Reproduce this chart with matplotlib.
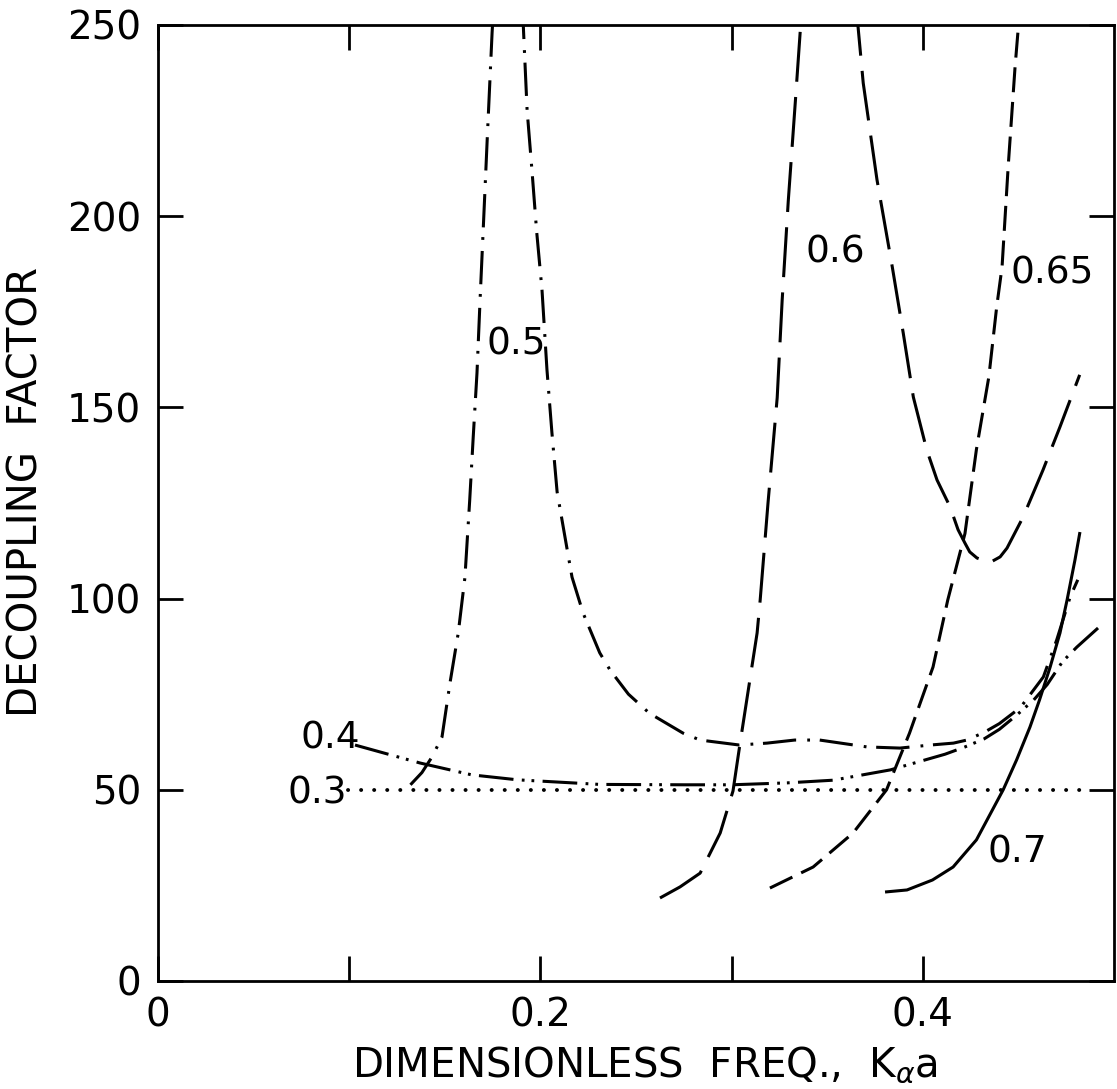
import matplotlib
matplotlib.use("Agg")
import matplotlib.pyplot as plt
import numpy as np

plt.rcParams["font.family"] = "DejaVu Sans"
plt.rcParams["mathtext.fontset"] = "dejavusans"
plt.rcParams["lines.scale_dashes"] = False

nan = np.nan

# decoupling factor vs dimensionless frequency, one curve per parameter value
x_03 = [0.0994, 0.482]
y_03 = [50.0, 50.0]

x_04 = [0.103, 0.116, 0.137, 0.1527, 0.164, 0.188, 0.231, 0.275, 0.300, 0.329,
        0.353, 0.383, 0.4116, 0.422, 0.432, 0.440, 0.449, 0.458, 0.465, 0.473,
        0.4805, 0.4916]
y_04 = [61.7, 59.9, 57.0, 55.2, 53.9, 52.6, 51.4, 51.3, 51.3, 51.8,
        52.5, 55.2, 59.3, 61.2, 63.3, 65.8, 69.5, 73.5, 77.5, 83.5,
        87.3, 92.3]

x_05 = [0.132, 0.138, 0.1433, 0.1485, 0.1527, 0.157, 0.1605, 0.163, 0.1648, 0.1668,
        0.1684, 0.1709, 0.1722, 0.1747, 0.1755, nan,
        0.1900, 0.191, 0.193, 0.1957, 0.198, 0.2008, 0.2034, 0.206, 0.2087, 0.214,
        0.2165, 0.2223, 0.231, 0.2364, 0.246, 0.257, 0.2746, 0.2835, 0.304, 0.3185,
        0.333, 0.346, 0.3708, 0.388, 0.404, 0.416, 0.423, 0.432, 0.440, 0.451,
        0.463, 0.470, 0.477, 0.481]
y_05 = [51.3, 54.5, 58.6, 63.8, 78.0, 91.0, 105.6, 125.8, 142.0, 159.0,
        178.0, 206.0, 220.7, 248.0, 255.0, nan,
        255.0, 250.0, 227.8, 211.0, 196.0, 180.7, 159.8, 143.3, 127.9, 112.7,
        105.6, 96.2, 85.8, 81.3, 75.0, 70.0, 64.8, 63.0, 61.7, 62.2,
        63.0, 63.0, 61.2, 60.9, 61.7, 62.2, 63.0, 65.0, 67.3, 71.5,
        79.5, 89.2, 100.4, 104.9]

x_06 = [0.2625, 0.273, 0.2835, 0.294, 0.3007, 0.3044, 0.3133, 0.3149, 0.319, 0.3238,
        0.3264, 0.3296, 0.3333, 0.3359, 0.3365, nan,
        0.3655, 0.366, 0.3688, 0.376, 0.384, 0.3897, 0.395, 0.402, 0.4074, 0.4142,
        0.4184, 0.422, 0.4245, 0.4283, 0.435, 0.4404, 0.444, 0.4524, 0.4628, 0.4717,
        0.482]
y_06 = [21.7, 24.6, 28.2, 38.7, 49.7, 62.2, 91.0, 99.6, 125.0, 152.5,
        178.0, 204.0, 230.0, 248.7, 255.0, nan,
        255.0, 250.0, 234.8, 209.5, 186.7, 169.5, 152.7, 138.9, 131.0, 124.0,
        118.0, 114.5, 112.2, 110.6, 109.4, 110.9, 113.2, 121.3, 133.6, 144.9,
        158.5]

x_065 = [0.32, 0.3426, 0.3635, 0.381, 0.393, 0.4053, 0.413, 0.422, 0.428, 0.4345,
         0.4386, 0.4414, 0.4446, 0.4482, 0.4498, 0.4505]
y_065 = [24.3, 29.8, 38.7, 50.0, 64.8, 82.1, 99.6, 117.0, 139.0, 158.0,
         176.3, 186.7, 212.9, 239.0, 248.7, 255.0]

x_07 = [0.381, 0.3917, 0.405, 0.4158, 0.428, 0.442, 0.449, 0.456, 0.461, 0.4665,
        0.4717, 0.4754, 0.4795, 0.482]
y_07 = [23.3, 23.8, 26.4, 29.8, 36.9, 50.0, 57.8, 66.4, 73.5, 82.0,
        91.0, 99.6, 110.0, 117.0]

curve_labels = ["0.3", "0.4", "0.5", "0.6", "0.65", "0.7"]
label_x = [0.0675, 0.0743, 0.172, 0.3384, 0.4456, 0.434]
label_y = [46.5, 60.9, 163.7, 187.8, 182.5, 31.1]

x_ticks = [0, 0.1, 0.2, 0.3, 0.4]
x_ticklabels = ["0", "", "0.2", "", "0.4"]
y_ticks = [0, 50, 100, 150, 200, 250]

fig = plt.figure(figsize=(11.17, 10.89), dpi=100)
ax = fig.add_axes([0.1415, 0.0992, 0.8559, 0.8779])

lw = 2.2
ax.plot(x_03, y_03, color="black", lw=2.8, linestyle=(0, (0.1, 9.3)),
        dash_capstyle="round")
ax.plot(x_04, y_04, color="black", lw=lw, linestyle=(0, (25, 6, 2, 5, 2, 6)))
ax.plot(x_05, y_05, color="black", lw=lw, linestyle=(0, (24, 8, 2, 7)))
ax.plot(x_06, y_06, color="black", lw=lw, linestyle=(0, (36, 11)))
ax.plot(x_065, y_065, color="black", lw=lw, linestyle=(0, (18, 7)))
ax.plot(x_07, y_07, color="black", lw=lw, linestyle="-")

for txt, tx, ty in zip(curve_labels, label_x, label_y):
    ax.text(tx, ty, txt, fontsize=27, ha="left", va="baseline")

ax.set_xlim(0, 0.5)
ax.set_ylim(0, 250)
ax.set_xticks(x_ticks)
ax.set_xticklabels(x_ticklabels)
ax.set_yticks(y_ticks)

for side in ax.spines.values():
    side.set_linewidth(2.0)

ax.tick_params(direction="in", length=18, width=2.0, top=True, right=True,
               labelsize=28)
ax.tick_params(axis="x", pad=11)
ax.tick_params(axis="y", pad=12)

ax.set_xlabel(r"DIMENSIONLESS  FREQ.,  K$_{\alpha}$a", fontsize=29)
ax.xaxis.set_label_coords(0.509, -0.066)
ax.set_ylabel("DECOUPLING  FACTOR", fontsize=29)
ax.yaxis.set_label_coords(-0.117, 0.5115)

fig.savefig("out.png", dpi=100)
